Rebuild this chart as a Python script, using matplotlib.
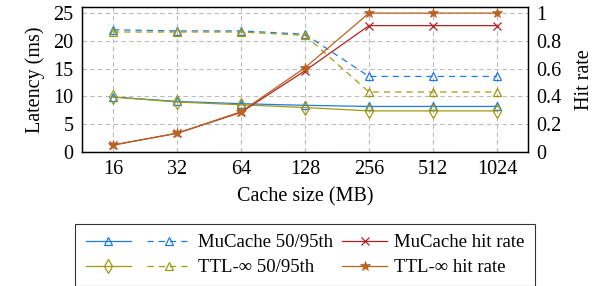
import matplotlib
matplotlib.use("Agg")
import matplotlib.pyplot as plt

plt.rcParams['font.family'] = ['Liberation Serif', 'DejaVu Serif']

cache_sizes = ["16", "32", "64", "128", "256", "512", "1024"]
mucache_p50 = [9.9, 9.1, 8.7, 8.4, 8.2, 8.2, 8.2]
mucache_p95 = [22.0, 21.8, 21.8, 21.2, 13.6, 13.6, 13.6]
ttl_p50 = [9.9, 9.0, 8.5, 8.0, 7.4, 7.4, 7.4]
ttl_p95 = [21.6, 21.6, 21.6, 21.0, 10.8, 10.8, 10.8]
mucache_hit = [0.05, 0.135, 0.285, 0.585, 0.91, 0.91, 0.91]
ttl_hit = [0.05, 0.135, 0.29, 0.607, 1.0, 1.0, 1.0]

c_blue = '#1f7be0'
c_olive = '#a09a12'
c_red = '#b22222'
c_brown = '#b8641e'

fs = 14.5
fig = plt.figure(figsize=(6.04, 2.86), dpi=100)
ax = fig.add_axes([82/604, 1-152/286, (528-82)/604, (152-7)/286])
ax2 = ax.twinx()

x = list(range(len(cache_sizes)))
lw = 0.9
ms = 6
l1, = ax.plot(x, mucache_p50, color=c_blue, lw=lw, marker='^', ms=ms, mfc='none', mew=0.9, zorder=3)
l2, = ax.plot(x, mucache_p95, color=c_blue, lw=lw, ls=(0, (5, 4)), marker='^', ms=ms, mfc='none', mew=0.9, zorder=3)
l3, = ax.plot(x, ttl_p50, color=c_olive, lw=lw, marker='d', ms=ms+1.5, mfc='none', mew=0.9, zorder=3)
l4, = ax.plot(x, ttl_p95, color=c_olive, lw=lw, ls=(0, (5, 4)), marker='^', ms=ms, mfc='none', mew=0.9, zorder=3)
l5, = ax2.plot(x, mucache_hit, color=c_red, lw=lw, marker='x', ms=ms, mew=0.9)
l6, = ax2.plot(x, ttl_hit, color=c_brown, lw=lw, marker='*', ms=ms+1, mew=0.5)

ax.set_xlim(-0.484, 6.484)
ax.set_ylim(0, 26.1)
ax2.set_ylim(0, 26.1/25)
ax.set_xticks(x)
ax.set_xticklabels(cache_sizes)
ax.set_yticks([0, 5, 10, 15, 20, 25])
ax2.set_yticks([0, 0.2, 0.4, 0.6, 0.8, 1.0])
ax2.set_yticklabels(["0", "0.2", "0.4", "0.6", "0.8", "1"])
ax.grid(True, color='#bbbbbb', ls=(0, (4, 3)), lw=0.8)
ax.set_axisbelow(True)
for a in (ax, ax2):
    a.tick_params(labelsize=fs, length=0, pad=6)
    for s in a.spines.values():
        s.set_linewidth(0.9)
ax.set_xlabel("Cache size (MB)", fontsize=fs, labelpad=6)
ax.set_ylabel("Latency (ms)", fontsize=fs, labelpad=6)
ax2.set_ylabel("Hit rate", fontsize=fs, labelpad=10)

handles = [l1, l3, l2, l4, l5, l6]
labels = ["", "", "MuCache 50/95th", "TTL-∞ 50/95th", "MuCache hit rate", "TTL-∞ hit rate"]
leg = fig.legend(handles, labels, loc='upper center', bbox_to_anchor=(305/604, 1-224/286),
                 ncol=3, fontsize=13.5, frameon=True, fancybox=False, edgecolor='black',
                 handlelength=2.4, handletextpad=0.35, columnspacing=0.5, numpoints=1,
                 borderpad=0.55, labelspacing=0.4, borderaxespad=0)
leg.get_frame().set_linewidth(0.8)

fig.savefig("out.png", dpi=100)
